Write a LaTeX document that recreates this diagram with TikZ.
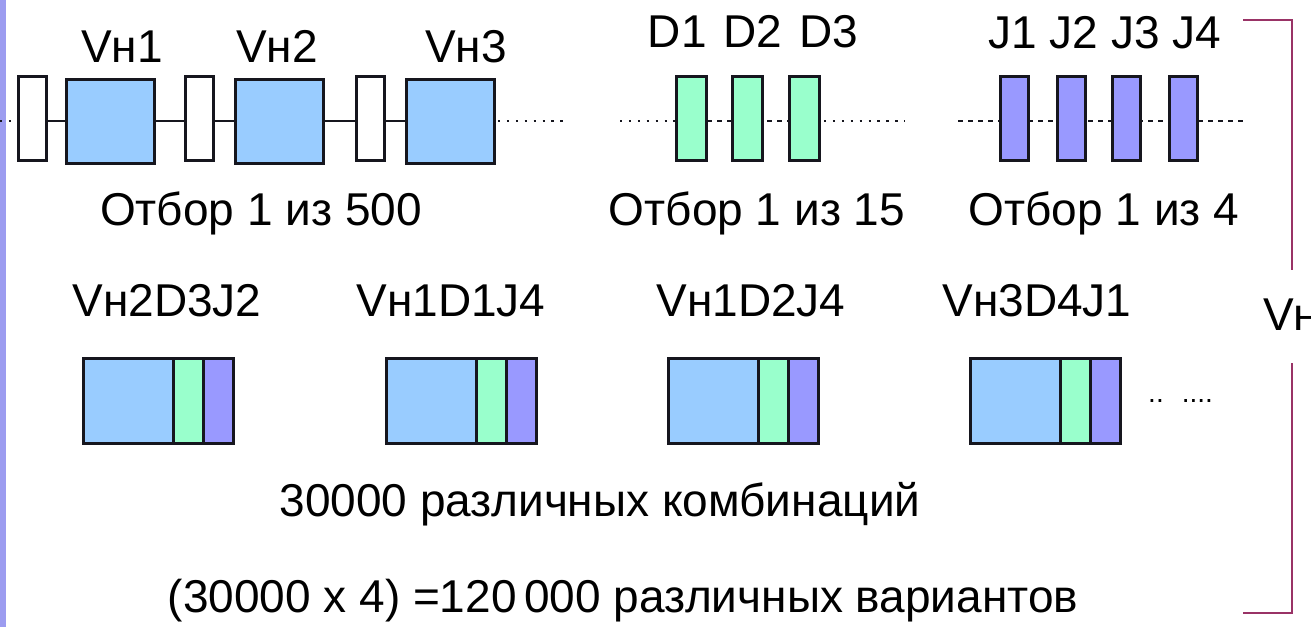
\documentclass[tikz,border=0pt]{standalone}
\usepackage{fontspec}
\setmainfont{Liberation Sans}
\definecolor{geneblue}{HTML}{99CCFF}
\definecolor{genegreen}{HTML}{99FFCC}
\definecolor{genepurple}{HTML}{9999FF}
\definecolor{edge}{HTML}{16161E}
\definecolor{bracketred}{HTML}{993366}
\definecolor{sidebar}{HTML}{9C9CF0}
\tikzset{
  box/.style={draw=edge, line width=3pt, inner sep=0pt, outer sep=0pt},
  spacer/.style={box, fill=white, minimum width=28pt, minimum height=84pt},
  vseg/.style={box, fill=geneblue, minimum width=88pt, minimum height=84pt},
  dseg/.style={box, fill=genegreen, minimum width=30pt, minimum height=84pt},
  jseg/.style={box, fill=genepurple, minimum width=28pt, minimum height=84pt},
  cv/.style={box, fill=geneblue, minimum width=90pt, minimum height=85pt},
  cd/.style={box, fill=genegreen, minimum width=30pt, minimum height=85pt},
  cj/.style={box, fill=genepurple, minimum width=30pt, minimum height=85pt},
  link/.style={draw=edge, line width=2.8pt},
  dots/.style={draw=edge, line width=2.4pt, dash pattern=on 2.4pt off 6.5pt},
  dashes/.style={draw=edge, line width=2.4pt, dash pattern=on 5pt off 5pt},
  lbl/.style={font=\fontsize{46}{50}\selectfont, inner sep=0pt, anchor=base},
  bracket/.style={draw=bracketred, line width=2.8pt},
}
\begin{document}
\begin{tikzpicture}[x=1pt,y=-1pt]
\useasboundingbox (0,0) rectangle (1311,627);
\fill[white] (0,0) rectangle (1311,627);
\fill[sidebar] (0,0) rectangle (6,627);

% --- chain of V segments with spacers
\coordinate (vstart) at (0,121);
\coordinate (vend) at (567,121);
\node[spacer] (w1) at (32.5,118.5) {};
\node[vseg]   (v1) at (110.5,121) {};
\node[spacer] (w2) at (199.5,118.5) {};
\node[vseg]   (v2) at (279.5,121) {};
\node[spacer] (w3) at (370.5,118.5) {};
\node[vseg]   (v3) at (450,121) {};
\draw[dots] (vstart) -- (w1.west |- vstart);
\draw[link] (w1.east |- vstart) -- (v1.west);
\draw[link] (v1.east) -- (w2.west |- vstart);
\draw[link] (w2.east |- vstart) -- (v2.west);
\draw[link] (v2.east) -- (w3.west |- vstart);
\draw[link] (w3.east |- vstart) -- (v3.west);
\draw[dots] ([xshift=4pt]v3.east) -- (vend);

% --- D segments
\coordinate (dstart) at (620,121);
\coordinate (dend) at (905,121);
\draw[dots] (dstart) -- (675,121);
\draw[dashes] (707,121) -- (788,121);
\draw[dots] (824,121) -- (dend);
\node[dseg] (d1) at (691,118.5) {};
\node[dseg] (d2) at (747,118.5) {};
\node[dseg] (d3) at (804,118.5) {};

% --- J segments
\coordinate (jstart) at (958,121);
\coordinate (jend) at (1247,121);
\draw[dashes] (jstart) -- (jend);
\node[jseg] (j1) at (1014,118.5) {};
\node[jseg] (j2) at (1071,118.5) {};
\node[jseg] (j3) at (1126.5,118.5) {};
\node[jseg] (j4) at (1183,118.5) {};

% --- labels of the first row
\node[lbl] (lv1) at (122,62) {Vн1};
\node[lbl] (lv2) at (277,62) {Vн2};
\node[lbl] (lv3) at (466,62) {Vн3};
\node[lbl] (ld)  at (753,47) {D1\hskip 17pt D2\hskip 17pt D3};
\node[lbl] (lj)  at (1105,48) {J1 J2 J3 J4};
\node[lbl] (s1) at (261,225) {Отбор 1 из 500};
\node[lbl] (s2) at (757,225) {Отбор 1 из 15};
\node[lbl] (s3) at (1104,225) {Отбор 1 из 4};

% --- assembled combinations
\foreach \i/\x in {1/83, 2/386, 3/668, 4/970} {
  \node[cv, anchor=north west] (c\i v) at (\x,358) {};
  \node[cd, anchor=west] (c\i d) at (c\i v.east) {};
  \node[cj, anchor=west] (c\i j) at (c\i d.east) {};
}
\node[lbl] (k1) at (167,316) {Vн2D3J2};
\node[lbl] (k2) at (451,316) {Vн1D1J4};
\node[lbl] (k3) at (751,316) {Vн1D2J4};
\node[lbl] (k4) at (1037,316) {Vн3D4J1};
\node[font=\fontsize{28}{30}\selectfont, inner sep=0pt, anchor=base west] (more) at (1148,402) {..\hskip 18pt....};

\node[lbl] (t1) at (600,516) {30000 различных комбинаций};
\node[lbl] (t2) at (623,612) {(30000 x 4) =120\,000 различных вариантов};

% --- bracket with the side label
\node[lbl, anchor=base west] (vside) at (1263,330) {Vн};
\coordinate (btop) at (1243,20);
\coordinate (bbot) at (1243,613);
\draw[bracket] (btop) -- (1292,20) -- (1292,270);
\draw[bracket] (1292,363) -- (1292,613) -- (bbot);
\end{tikzpicture}
\end{document}
